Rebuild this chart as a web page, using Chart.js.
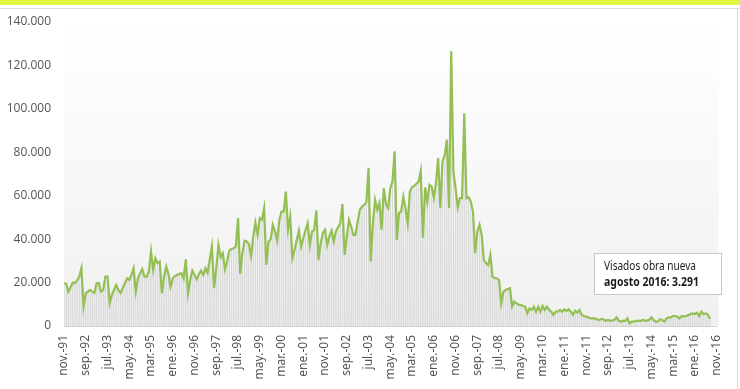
<!DOCTYPE html>
<html>
<head>
<meta charset="utf-8">
<script src="https://cdn.jsdelivr.net/npm/chart.js@4.4.1/dist/chart.umd.min.js"></script>
<style>
  html, body { margin: 0; padding: 0; background: #fff; }
  #wrap { position: relative; width: 740px; height: 389px; }
</style>
</head>
<body>
<div id="wrap"><canvas id="visados"></canvas></div>
<script>
// monthly categories nov-91 .. nov-16
const meses = ["ene", "feb", "mar", "abr", "may", "jun", "jul", "ago", "sep", "oct", "nov", "dic"];
const labels = [];
for (let k = 0; k < 301; k++) {
  const m = (10 + k) % 12;
  const y = 1991 + Math.floor((10 + k) / 12);
  labels.push(meses[m] + ".-" + String(y).slice(2));
}

const yTicks = [0, 20000, 40000, 60000, 80000, 100000, 120000, 140000];

// visados de obra nueva, nov-91 .. ago-16
const visados = [
  19700, 19500,
  15800, 17700, 20000, 19700, 20900, 22700, 26600, 8900, 15000, 15800, 16600, 15800,
  15200, 19700, 19700, 15800, 16600, 22700, 22700, 10500, 14300, 16600, 18900, 16600,
  15200, 17500, 19700, 22000, 21200, 23500, 26600, 15800, 22000, 24300, 26200, 22700,
  22700, 25000, 34300, 25800, 31200, 29000, 29700, 15000, 22700, 27300, 24000, 18100,
  22000, 23000, 23500, 24000, 24300, 22000, 30700, 15000, 21200, 25500, 23500, 21500,
  23800, 25500, 23500, 26600, 24500, 30400, 36600, 17400, 26600, 37300, 31700, 33500,
  26100, 29700, 34700, 35500, 35800, 36600, 49700, 24000, 33500, 39300, 38900, 37800,
  32300, 41200, 47600, 42000, 49700, 49000, 54300, 28100, 38900, 40000, 46600, 43500,
  39300, 48900, 52700, 52700, 61900, 44300, 50400, 31200, 35000, 39600, 43900, 36600,
  40400, 44000, 47300, 37300, 43500, 44200, 53200, 30400, 38100, 42700, 44300, 37300,
  41200, 43900, 38900, 43600, 45500, 47300, 56200, 32700, 41200, 48900, 45800, 42000,
  42000, 48100, 53500, 55000, 55800, 57000, 72700, 29700, 47300, 58100, 53500, 56600,
  44300, 63500, 56000, 54300, 63500, 66500, 80400, 39600, 52000, 52800, 59600, 54300,
  47300, 61900, 64000, 64500, 65500, 66500, 71400, 40700, 63800, 57300, 65000, 64200,
  58900, 66000, 77300, 54300, 75800, 78500, 85800, 54300, 126500, 71100, 63500, 54600,
  58900, 58900, 98000, 58900, 59300, 57300, 52700, 33500, 43500, 46600, 42000, 30400,
  28900, 28100, 32700, 22700, 22000, 22000, 21200, 10500, 15800, 16600, 17000, 17400,
  8900, 11200, 10500, 9700, 9700, 9200, 8900, 5900, 8100, 7400, 8900, 6600,
  8900, 6600, 9200, 7400, 8900, 7500, 6600, 5100, 6600, 6600, 7400, 6600,
  7700, 7000, 7700, 6600, 5100, 7000, 6100, 7400, 5100, 4600, 4300, 4000,
  3500, 3500, 3500, 3000, 2800, 3300, 3000, 2400, 2800, 2500, 2600, 2800,
  4000, 2500, 2000, 2500, 2300, 3500, 1200, 2000, 2000, 2300, 2500, 2300,
  2800, 2500, 2500, 2800, 4000, 2800, 2000, 2000, 3100, 2800, 2000, 3500,
  4000, 4000, 4600, 4600, 4300, 3500, 4600, 4300, 4600, 5000, 5500, 5800,
  5500, 6100, 4600, 6600, 5500, 5800, 5200, 3291
];

const notaLinea1 = "Visados obra nueva";
const notaLinea2 = "agosto 2016: 3.291";

const narrow = "'Noto Sans', 'Open Sans', sans-serif";

// page frame + plot background gradient
const frame = {
  id: "frame",
  beforeDraw(chart) {
    const ctx = chart.ctx;
    const a = chart.chartArea;
    ctx.save();
    ctx.fillStyle = "#e0f73f";
    ctx.fillRect(0, 0, chart.width, 5);
    ctx.strokeStyle = "#dcdcdc";
    ctx.lineWidth = 1;
    ctx.beginPath();
    ctx.moveTo(0, 8.5);
    ctx.lineTo(chart.width, 8.5);
    ctx.moveTo(737.5, 8);
    ctx.lineTo(737.5, chart.height);
    ctx.stroke();
    const g = ctx.createLinearGradient(0, a.top, 0, a.bottom);
    g.addColorStop(0, "#ffffff");
    g.addColorStop(1, "#f0f0f0");
    ctx.fillStyle = g;
    ctx.fillRect(a.left, a.top, a.right - a.left + 2, a.bottom - a.top);
    ctx.restore();
  }
};

// last value note
const nota = {
  id: "nota",
  afterDraw(chart) {
    const ctx = chart.ctx;
    ctx.save();
    ctx.fillStyle = "#ffffff";
    ctx.fillRect(594, 253, 128, 42);
    ctx.strokeStyle = "#c8c8c8";
    ctx.lineWidth = 1;
    ctx.strokeRect(594.5, 253.5, 127, 41);
    ctx.fillStyle = "#1a1a1a";
    ctx.textBaseline = "middle";
    ctx.font = "condensed 12px " + narrow;
    ctx.fillText(notaLinea1, 604, 267, 92);
    ctx.font = "condensed bold 12px " + narrow;
    ctx.fillText(notaLinea2, 604, 283, 95);
    ctx.restore();
  }
};

new Chart(document.getElementById("visados"), {
  data: {
    labels: labels,
    datasets: [
      {
        type: "line",
        data: visados,
        borderColor: "#94bf54",
        borderWidth: 2.2,
        pointRadius: 0,
        tension: 0,
        order: 0
      },
      {
        type: "bar",
        data: visados,
        backgroundColor: "#dadada",
        barPercentage: 0.6,
        categoryPercentage: 1,
        order: 1
      }
    ]
  },
  options: {
    responsive: true,
    maintainAspectRatio: false,
    animation: false,
    layout: { padding: { top: 22, right: 20, left: 0, bottom: 0 } },
    plugins: { legend: { display: false }, tooltip: { enabled: false } },
    scales: {
      x: {
        offset: false,
        grid: { display: false, drawTicks: false },
        border: { display: true, color: "#d0d0d0" },
        ticks: {
          autoSkip: false,
          maxRotation: 90,
          minRotation: 90,
          padding: 9,
          color: "#555",
          // weight slot carries font-stretch into the canvas font string
          font: { family: narrow, size: 12, weight: "condensed" },
          callback: (v, i) => (i % 10 === 0 ? labels[i] : null)
        },
        afterFit: (s) => { s.height = 63; }
      },
      y: {
        min: 0,
        max: 140000,
        afterBuildTicks: (s) => { s.ticks = yTicks.map((v) => ({ value: v })); },
        grid: { display: false, drawTicks: false },
        border: { display: false },
        ticks: {
          padding: 13,
          color: "#555",
          font: { family: "'Open Sans', sans-serif", size: 12 },
          callback: (v) => v.toLocaleString("es-ES").replace(/\s/g, ".")
        },
        afterFit: (s) => { s.width = 64; }
      }
    }
  },
  plugins: [frame, nota]
});
</script>
</body>
</html>
